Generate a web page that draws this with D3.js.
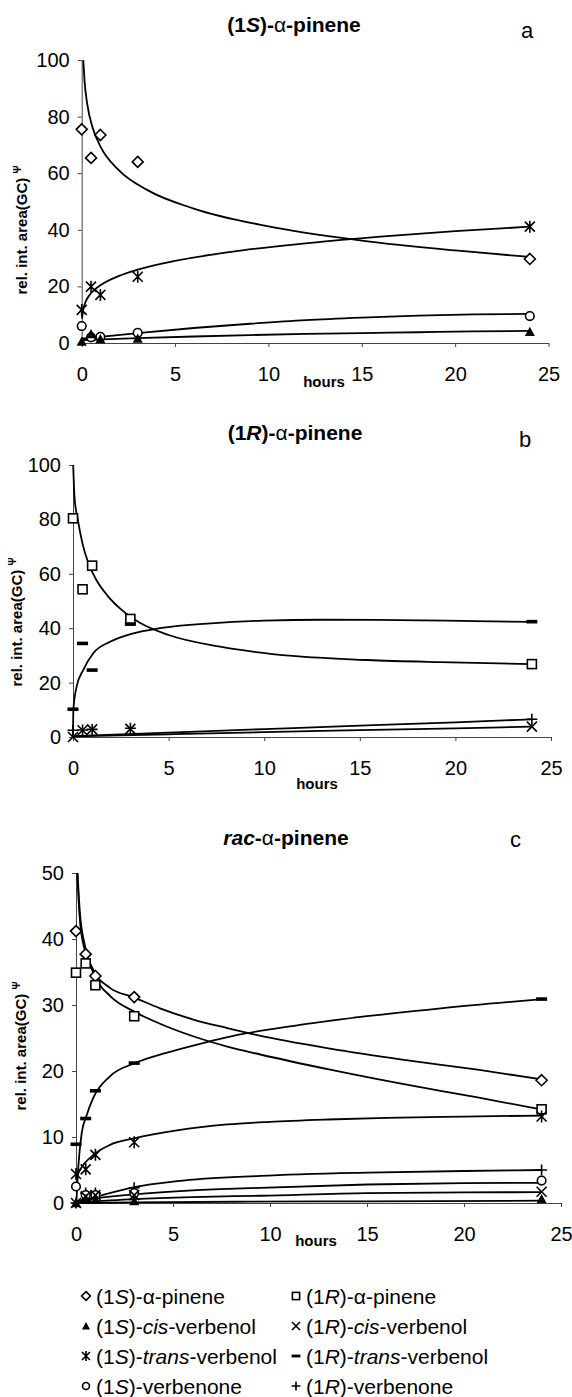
<!DOCTYPE html>
<html><head><meta charset="utf-8">
<script src="https://cdn.jsdelivr.net/npm/d3@7"></script>
<style>body{margin:0;background:#fff} svg{display:block}</style>
</head><body><svg id="c" width="572" height="1397"></svg>
<script>
// ---------- data ----------
const hours = [0, 0.5, 1, 3, 24];
const xTicks = [0, 5, 10, 15, 20, 25];
const yTicksAB = [0, 20, 40, 60, 80, 100];
const yTicksC = [0, 10, 20, 30, 40, 50];

// panel a : (1S)-alpha-pinene
const aPineneS = [75.5, 65.4, 73.5, 64, 29.7];
const aCisS = [0.5, 3.2, 1.4, 1.6, 4.0];
const aTransS = [11.7, 19.9, 17, 23.4, 41.1];
const aVerbenoneS = [6, 2, 2.2, 3.6, 9.5];
// trend curves (hours, value)
const aPineneSFit = [[0.084,100],[0.15,92.8],[0.3,84.3],[0.6,75.8],[1,69.5],[2,61],[3.5,54.1],[6,47.5],[10,41.2],[15,36.2],[20,32.7],[24,30.4]];
const aTransSFit = [[0.02,8.6],[0.05,10.4],[0.1,12.3],[0.2,14.4],[0.4,16.8],[0.7,18.9],[1,20.4],[2,23.7],[3,25.9],[5,29],[8,32.2],[12,35.2],[16,37.6],[20,39.5],[24,41.1]];
const aVerbenoneSFit = [[0,1.5],[1,2.2],[3,3.5],[6,5.3],[9,6.8],[12,8.1],[15,9],[18,9.7],[21,10.1],[24,10.3]];
const aCisSFit = [[0,1],[3,1.7],[6,2.3],[9,2.8],[12,3.2],[15,3.5],[18,3.8],[21,4.1],[24,4.3]];

// panel b : (1R)-alpha-pinene
const bPineneR = [80.4, 54.3, 63, 43.4, 26.8];
const bCisR = [0, 2.5, 2.8, 3, 3.8];
const bTransR = [10.2, 34.4, 24.6, 41.5, 42.4];
const bVerbenoneR = [2.5, 2.6, 2.8, 3.2, 6.5];
const bPineneRFit = [[0.01,100],[0.08,88],[0.25,80],[0.5,71],[0.8,64],[1.2,58],[1.8,52],[2.5,47],[3.5,42],[5,37.5],[7.7,33.2],[11.5,29.8],[15.4,28.3],[19.2,27.5],[24,26.8]];
const bTransRFit = [[0,0],[0.02,10],[0.19,18.5],[0.54,24.7],[1.06,30.8],[1.94,35],[3.15,38.1],[4.55,40],[7.2,41.8],[10,42.8],[13,43.1],[17,43],[21,42.6],[24,42.3]];
const bVerbenoneRFit = [[0,0.3],[5,1.6],[10,2.9],[15,4.2],[20,5.4],[24,6.5]];
const bCisRFit = [[0,0.2],[5,1],[10,1.8],[15,2.5],[20,3.2],[24,3.8]];

// panel c : rac-alpha-pinene
const cPineneS = [41.2, 37.7, 34.4, 31.2, 18.6];
const cPineneR = [34.9, 36.3, 33, 28.3, 14.2];
const cCisS = [0, 0.6, 0.5, 0.3, 0.6];
const cCisR = [0, 1.0, 1.2, 1.2, 1.7];
const cTransS = [4.4, 5.1, 7.3, 9.2, 13.1];
const cTransR = [8.9, 12.8, 17, 21.2, 30.9];
const cVerbenoneS = [2.5, 1.2, 1.2, 1.5, 3.4];
const cVerbenoneR = [0, 1.5, 1.5, 2.3, 5];
const cPineneSFit = [[0.06,50],[0.15,45],[0.29,40.5],[0.9,35.3],[1.75,32.6],[2.95,31.2],[4.33,29.5],[6.05,27.8],[7.8,26.5],[9.4,25.4],[13.1,23.4],[16.9,21.7],[20.7,20.2],[24.1,18.7]];
const cPineneRFit = [[0.08,50],[0.2,44],[0.46,39],[1,34.2],[1.75,31.4],[3,29],[4.3,27.2],[6,25.3],[7.8,23.7],[9.5,22.5],[13.1,20.2],[16.9,18],[20.7,16],[24.1,14.1]];
const cTransRFit = [[0.02,0],[0.06,2.5],[0.12,5.5],[0.29,10.5],[0.55,13.3],[0.9,16],[1.75,19.2],[3.04,21.2],[4.6,22.7],[6.5,24.2],[8.4,25.5],[12.1,27.2],[15,28.3],[18.8,29.5],[24.1,30.9]];
const cTransSFit = [[0,3.8],[0.2,5],[0.9,7.3],[1.75,8.8],[3,9.8],[5.2,11],[7.8,11.9],[10,12.3],[13,12.65],[16,12.9],[20,13.1],[24.1,13.25]];
const cVerbenoneRFit = [[0,0],[0.5,0.5],[1,0.9],[3,2.4],[5.2,3.3],[9.5,4.1],[15,4.6],[20,4.85],[24,5]];
const cVerbenoneSFit = [[0,0.3],[1,0.7],[3,1.3],[6,1.9],[9.5,2.3],[15,2.8],[20,3],[24,3.05]];
const cCisRFit = [[0,0.1],[3,0.6],[6,0.9],[9.5,1.1],[15,1.5],[20,1.6],[24,1.65]];
const cCisSFit = [[0,0],[3,0.1],[9,0.2],[15,0.25],[24,0.35]];

// legend
const legendItems = [
  {m:'diamond', parts:[{t:'(1'},{t:'S',i:1},{t:')-'},{t:'α'},{t:'-pinene'}]},
  {m:'square', parts:[{t:'(1'},{t:'R',i:1},{t:')-'},{t:'α'},{t:'-pinene'}]},
  {m:'triangle', parts:[{t:'(1'},{t:'S',i:1},{t:')-'},{t:'cis',i:1},{t:'-verbenol'}]},
  {m:'x', parts:[{t:'(1'},{t:'R',i:1},{t:')-'},{t:'cis',i:1},{t:'-verbenol'}]},
  {m:'star', parts:[{t:'(1'},{t:'S',i:1},{t:')-'},{t:'trans',i:1},{t:'-verbenol'}]},
  {m:'dash', parts:[{t:'(1'},{t:'R',i:1},{t:')-'},{t:'trans',i:1},{t:'-verbenol'}]},
  {m:'circle', parts:[{t:'(1'},{t:'S',i:1},{t:')-verbenone'}]},
  {m:'plus', parts:[{t:'(1'},{t:'R',i:1},{t:')-verbenone'}]}
];

// ---------- drawing ----------
const FF = '"Liberation Sans", Arial, Helvetica, sans-serif';
const svg = d3.select('#c').attr('font-family', FF);

function rich(sel, parts) {
  parts.forEach(p => {
    const t = sel.append('tspan').text(p.t);
    if (p.i) t.attr('font-style', 'italic');
    if (p.n) t.attr('font-weight', 'normal');
  });
}

function drawMarker(g, type, cx, cy, k) {
  const s = k || 1;
  const sw = 1.6;
  if (type === 'diamond') {
    const r = 5.5 * s;
    g.append('path').attr('d', `M${cx},${cy-r}L${cx+r},${cy}L${cx},${cy+r}L${cx-r},${cy}Z`)
      .attr('fill', '#fff').attr('stroke', '#000').attr('stroke-width', sw);
  } else if (type === 'square') {
    const r = 4.5 * s;
    g.append('rect').attr('x', cx-r).attr('y', cy-r).attr('width', 2*r).attr('height', 2*r)
      .attr('fill', '#fff').attr('stroke', '#000').attr('stroke-width', sw);
  } else if (type === 'triangle') {
    const r = 5 * s;
    g.append('path').attr('d', `M${cx},${cy-r}L${cx+r},${cy+r*0.85}L${cx-r},${cy+r*0.85}Z`).attr('fill', '#000');
  } else if (type === 'circle') {
    g.append('circle').attr('cx', cx).attr('cy', cy).attr('r', 4.3*s)
      .attr('fill', '#fff').attr('stroke', '#000').attr('stroke-width', sw);
  } else if (type === 'x') {
    const r = 5 * s;
    g.append('path').attr('d', `M${cx-r},${cy-r}L${cx+r},${cy+r}M${cx-r},${cy+r}L${cx+r},${cy-r}`)
      .attr('stroke', '#000').attr('stroke-width', sw);
  } else if (type === 'plus') {
    const r = 5.5 * s;
    g.append('path').attr('d', `M${cx-r},${cy}L${cx+r},${cy}M${cx},${cy-r}L${cx},${cy+r}`)
      .attr('stroke', '#000').attr('stroke-width', sw);
  } else if (type === 'star') {
    const r = 5 * s;
    g.append('path').attr('d', `M${cx-r},${cy-r}L${cx+r},${cy+r}M${cx-r},${cy+r}L${cx+r},${cy-r}M${cx},${cy-r-1}L${cx},${cy+r+1}`)
      .attr('stroke', '#000').attr('stroke-width', sw);
  } else if (type === 'dash') {
    g.append('rect').attr('x', cx-5.5*s).attr('y', cy-1.8*s).attr('width', 11*s).attr('height', 3.6*s).attr('fill', '#000');
  }
}

const panels = [
  {
    title:[{t:'(1'},{t:'S',i:1},{t:')-'},{t:'α',n:1},{t:'-pinene'}], titleX:294, titleY:32,
    letter:'a', letterX:521, letterY:38,
    x0:81.7, x1:548.5, yTop:60, yBot:343, yMax:100, yTicks:yTicksAB,
    ylabX:27, ylabY:230, hoursX:324, hoursY:387,
    series:[
      {v:aPineneS, fit:aPineneSFit, m:'diamond'},
      {v:aTransS, fit:aTransSFit, m:'star'},
      {v:aVerbenoneS, fit:aVerbenoneSFit, m:'circle'},
      {v:aCisS, fit:aCisSFit, m:'triangle'}
    ]
  },
  {
    title:[{t:'(1'},{t:'R',i:1},{t:')-'},{t:'α',n:1},{t:'-pinene'}], titleX:295, titleY:440,
    letter:'b', letterX:519, letterY:447,
    x0:73, x1:551, yTop:465, yBot:737, yMax:100, yTicks:yTicksAB,
    ylabX:22, ylabY:622, hoursX:317, hoursY:789,
    series:[
      {v:bPineneR, fit:bPineneRFit, m:'square'},
      {v:bTransR, fit:bTransRFit, m:'dash'},
      {v:bVerbenoneR, fit:bVerbenoneRFit, m:'plus'},
      {v:bCisR, fit:bCisRFit, m:'x'}
    ]
  },
  {
    title:[{t:'rac',i:1},{t:'-'},{t:'α',n:1},{t:'-pinene'}], titleX:286, titleY:845,
    letter:'c', letterX:510, letterY:847,
    x0:76, x1:561, yTop:873, yBot:1203, yMax:50, yTicks:yTicksC,
    ylabX:26, ylabY:1046, hoursX:316, hoursY:1246,
    series:[
      {v:cPineneS, fit:cPineneSFit, m:'diamond'},
      {v:cPineneR, fit:cPineneRFit, m:'square'},
      {v:cTransR, fit:cTransRFit, m:'dash'},
      {v:cTransS, fit:cTransSFit, m:'star'},
      {v:cVerbenoneR, fit:cVerbenoneRFit, m:'plus'},
      {v:cVerbenoneS, fit:cVerbenoneSFit, m:'circle'},
      {v:cCisR, fit:cCisRFit, m:'x'},
      {v:cCisS, fit:cCisSFit, m:'triangle'}
    ]
  }
];

panels.forEach(p => {
  const g = svg.append('g');
  const x = d3.scaleLinear().domain([0, 25]).range([p.x0, p.x1]);
  const y = d3.scaleLinear().domain([0, p.yMax]).range([p.yBot, p.yTop]);

  // title
  const tt = g.append('text').attr('x', p.titleX).attr('y', p.titleY).attr('text-anchor', 'middle')
    .attr('font-size', 21).attr('font-weight', 'bold');
  rich(tt, p.title);
  g.append('text').attr('x', p.letterX).attr('y', p.letterY).attr('font-size', 22).text(p.letter);

  // axes
  const ya = g.append('g').attr('transform', `translate(${p.x0},0)`)
    .call(d3.axisLeft(y).tickValues(p.yTicks).tickSize(4).tickSizeOuter(0).tickPadding(8));
  const xa = g.append('g').attr('transform', `translate(0,${p.yBot})`)
    .call(d3.axisBottom(x).tickValues(xTicks).tickSize(4).tickSizeOuter(0));
  [ya, xa].forEach(a => {
    a.select('.domain').attr('stroke', '#444').attr('stroke-width', 1);
    a.selectAll('.tick line').attr('stroke', '#444').attr('stroke-width', 1);
    a.selectAll('text').attr('font-size', 20).attr('fill', '#000').attr('font-family', FF);
  });
  xa.selectAll('text').attr('y', 38).attr('dy', 0);

  // axis titles
  const yl = g.append('text').attr('transform', `translate(${p.ylabX},${p.ylabY}) rotate(-90)`)
    .attr('text-anchor', 'middle').attr('font-size', 15).attr('font-weight', 'bold');
  yl.append('tspan').text('rel. int. area(GC) ');
  yl.append('tspan').text('Ψ').attr('font-size', 10).attr('dy', -6);
  g.append('text').attr('x', p.hoursX).attr('y', p.hoursY).attr('text-anchor', 'middle')
    .attr('font-size', 15).attr('font-weight', 'bold').text('hours');

  // trend curves
  const line = d3.line().x(d => x(d[0])).y(d => y(d[1])).curve(d3.curveMonotoneX);
  p.series.forEach(s => {
    g.append('path').attr('d', line(s.fit)).attr('fill', 'none').attr('stroke', '#000')
      .attr('stroke-width', 1.8);
  });
  // markers
  p.series.forEach(s => {
    const mg = g.append('g');
    s.v.forEach((v, i) => drawMarker(mg, s.m, x(hours[i]), y(v)));
  });
});

// legend
const legCols = [86, 296];
const legRows = [1297, 1327, 1357, 1387];
legendItems.forEach((it, i) => {
  const cx = legCols[i % 2], cy = legRows[Math.floor(i / 2)];
  const lg = svg.append('g');
  drawMarker(lg, it.m, cx, cy - 1, 0.8);
  const t = lg.append('text').attr('x', cx + 10).attr('y', cy + 7).attr('font-size', 21);
  rich(t, it.parts);
});
</script>
</body></html>
